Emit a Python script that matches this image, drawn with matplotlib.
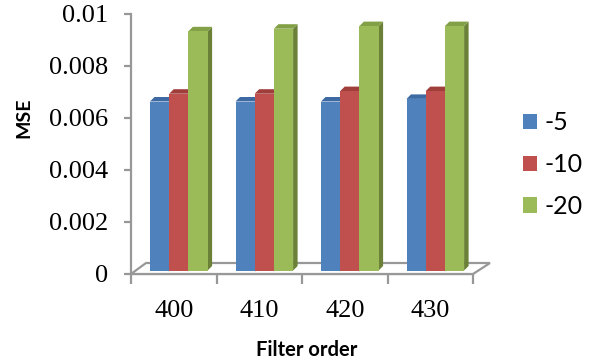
import matplotlib
matplotlib.use("Agg")
import matplotlib.pyplot as plt
from matplotlib.patches import Polygon, Patch

# MSE versus filter order for three SNR settings
orders = ["400", "410", "420", "430"]
series_names = ["-5", "-10", "-20"]
mse_m5 = [0.0065, 0.0065, 0.0065, 0.0066]
mse_m10 = [0.0068, 0.0068, 0.0069, 0.0069]
mse_m20 = [0.0092, 0.0093, 0.0094, 0.0094]

front_colors = ["#4F81BD", "#C0504D", "#9BBB59"]
top_colors = ["#3E6AA3", "#A03E3B", "#82A046"]
side_colors = ["#375E92", "#8E3431", "#6A8137"]

W, H = 590, 363
fig = plt.figure(figsize=(W / 100, H / 100), dpi=100)

# axes box in pixels: x from 131 to 473, y from 274 (zero) to 14 (0.01)
x0, x1, y0, y1 = 131, 473, 274, 14
ax = fig.add_axes([x0 / W, 1 - y0 / H, (x1 - x0) / W, (y0 - y1) / H])
ax.set_xlim(-0.5, 3.5)
ax.set_ylim(0, 0.01)

# pixel -> data unit helpers
ux = 4.0 / (x1 - x0)
uy = 0.01 / (y0 - y1)

gray = "#989898"

# floor of the 3d box
fdx_l, fdx_r, fdy = 15 * ux, 17 * ux, 11 * uy
floor = Polygon([(-0.5, 0), (3.5, 0), (3.5 + fdx_r, fdy), (-0.5 + fdx_l, fdy)],
                closed=True, facecolor="white", edgecolor=gray, lw=1.6,
                clip_on=False, zorder=1)
ax.add_patch(floor)

bar_w = 19.2 * ux
group_start = -0.5 + 19 * ux
base = 3.5 * uy
ddx, ddy = 4.5 * ux, 4.5 * uy

z = 2
for i in range(len(orders)):
    for k, vals in enumerate([mse_m5, mse_m10, mse_m20]):
        left = i + group_start + k * bar_w
        top = base + vals[i]
        ax.bar(left, vals[i], width=bar_w, bottom=base, align="edge",
               color=front_colors[k], lw=0, zorder=z)
        side = Polygon([(left + bar_w, base), (left + bar_w + ddx, base + ddy),
                        (left + bar_w + ddx, top + ddy), (left + bar_w, top)],
                       closed=True, facecolor=side_colors[k], lw=0, zorder=z - 0.5,
                       clip_on=False)
        lid = Polygon([(left, top), (left + ddx, top + ddy),
                       (left + bar_w + ddx, top + ddy), (left + bar_w, top)],
                      closed=True, facecolor=top_colors[k], lw=0, zorder=z - 0.5,
                      clip_on=False)
        ax.add_patch(side)
        ax.add_patch(lid)
        z += 1

for s in ["top", "right"]:
    ax.spines[s].set_visible(False)
ax.spines["left"].set_color(gray)
ax.spines["left"].set_linewidth(1.6)
ax.spines["bottom"].set_color(gray)
ax.spines["bottom"].set_linewidth(1.6)
ax.spines["bottom"].set_zorder(0.5)

serif = "Liberation Serif"
ax.set_yticks([0, 0.002, 0.004, 0.006, 0.008, 0.01])
ax.set_yticklabels(["0", "0.002", "0.004", "0.006", "0.008", "0.01"],
                   family=serif, fontsize=19)
ax.tick_params(axis="y", direction="out", length=5, width=1.6, color=gray, pad=11.5)

ax.set_xticks([-0.5, 0.5, 1.5, 2.5, 3.5])
ax.set_xticklabels([])
ax.set_xticks(range(len(orders)), minor=True)
ax.set_xticklabels(orders, minor=True, family=serif, fontsize=19)
ax.tick_params(axis="x", which="major", direction="out", length=7, width=1.6, color=gray)
ax.tick_params(axis="x", which="minor", length=0, pad=19)

fig.text(307 / W, 1 - 350 / H, "Filter order", family="Lato", fontweight="bold",
         fontsize=14.5, ha="center", va="center")
fig.text(24 / W, 1 - 118 / H, "MSE", family="Lato", fontweight="bold",
         fontsize=14, ha="center", va="center", rotation=90)

handles = [Patch(facecolor=c, edgecolor="none") for c in front_colors]
fig.legend(handles, series_names, loc="center left",
           bbox_to_anchor=(523 / W, 1 - 164.5 / H), frameon=False,
           prop={"family": "Lato", "size": 18}, borderpad=0, borderaxespad=0,
           handlelength=0.56, handleheight=0.56, handletextpad=0.3,
           labelspacing=0.75)

fig.savefig("out.png", dpi=100)
